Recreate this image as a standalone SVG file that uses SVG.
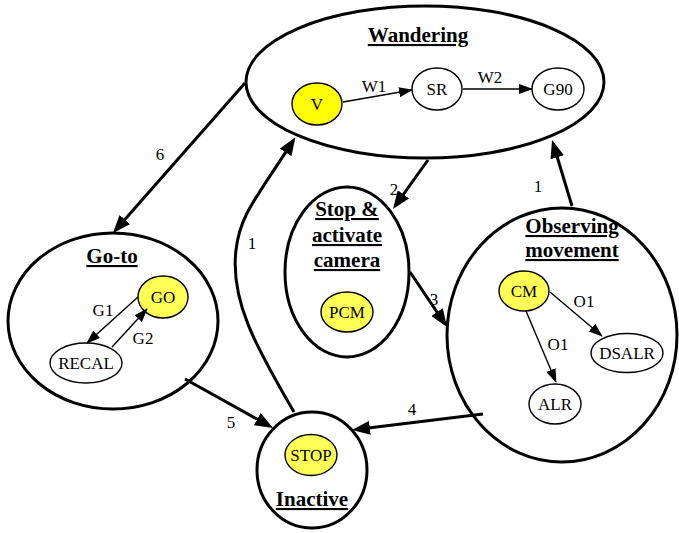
<svg xmlns="http://www.w3.org/2000/svg" width="679" height="533" viewBox="0 0 679 533">
  <style>
    .state { fill: #ffffff; stroke: #000000; stroke-width: 3; }
    .node { fill: #ffffff; stroke: #000000; stroke-width: 1.4; }
    .start { fill: #ffff00; }
    .active { fill: #ffff55; }
    .title { font-family: "Liberation Serif", "Times New Roman", serif; font-size: 21px; font-weight: bold; text-anchor: middle; text-decoration: underline; fill: #000; }
    .label { font-family: "Liberation Serif", "Times New Roman", serif; font-size: 17px; text-anchor: middle; fill: #000; }
    .big { fill: none; stroke: #000; stroke-width: 3; marker-end: url(#bigArrow); }
    .thin { fill: none; stroke: #000; stroke-width: 1.4; marker-end: url(#smallArrow); }
  </style>
  <defs>
    <marker id="bigArrow" markerUnits="userSpaceOnUse" markerWidth="18" markerHeight="14" refX="14" refY="7" orient="auto">
      <path d="M0,0 L18,7 L0,14 Z" fill="#000"/>
    </marker>
    <marker id="smallArrow" markerUnits="userSpaceOnUse" markerWidth="14" markerHeight="10" refX="13" refY="5" orient="auto">
      <path d="M0,0 L14,5 L0,10 Z" fill="#000"/>
    </marker>
  </defs>

  <rect width="679" height="533" fill="#ffffff"/>

  <!-- Wandering -->
  <g id="wandering">
    <ellipse class="state" cx="425" cy="82" rx="179" ry="76"/>
    <text class="title" x="418" y="42">Wandering</text>
    <g id="V">
      <ellipse class="node start" cx="317" cy="104" rx="25" ry="21"/>
      <text class="label" x="317" y="110">V</text>
    </g>
    <g id="SR">
      <ellipse class="node" cx="437" cy="89" rx="25" ry="21"/>
      <text class="label" x="437" y="95">SR</text>
    </g>
    <g id="G90">
      <ellipse class="node" cx="558" cy="89" rx="26" ry="21"/>
      <text class="label" x="558" y="95">G90</text>
    </g>
  </g>

  <!-- Go-to -->
  <g id="goto">
    <ellipse class="state" cx="113" cy="321" rx="105" ry="88"/>
    <text class="title" x="112" y="263">Go-to</text>
    <g id="GO">
      <ellipse class="node active" cx="163" cy="297" rx="25" ry="21"/>
      <text class="label" x="163" y="303">GO</text>
    </g>
    <g id="RECAL">
      <ellipse class="node" cx="86" cy="363" rx="36" ry="20"/>
      <text class="label" x="86" y="369">RECAL</text>
    </g>
  </g>

  <!-- Stop & activate camera -->
  <g id="stop-camera">
    <ellipse class="state" cx="347" cy="272" rx="62" ry="85"/>
    <text class="title" x="347" y="216">Stop &amp;</text>
    <text class="title" x="347" y="242">activate</text>
    <text class="title" x="347" y="267">camera</text>
    <g id="PCM">
      <ellipse class="node active" cx="347" cy="312" rx="26" ry="20"/>
      <text class="label" x="347" y="318">PCM</text>
    </g>
  </g>

  <!-- Observing movement -->
  <g id="observing">
    <ellipse class="state" cx="562" cy="335" rx="115" ry="127"/>
    <text class="title" x="572" y="233">Observing</text>
    <text class="title" x="572" y="257">movement</text>
    <g id="CM">
      <ellipse class="node active" cx="524" cy="291" rx="25" ry="20"/>
      <text class="label" x="524" y="297">CM</text>
    </g>
    <g id="DSALR">
      <ellipse class="node" cx="627" cy="353" rx="36" ry="19.5"/>
      <text class="label" x="627" y="359">DSALR</text>
    </g>
    <g id="ALR">
      <ellipse class="node" cx="555" cy="404" rx="26" ry="20"/>
      <text class="label" x="555" y="410">ALR</text>
    </g>
  </g>

  <!-- Inactive -->
  <g id="inactive">
    <ellipse class="state" cx="312" cy="470" rx="55" ry="58"/>
    <g id="STOP">
      <ellipse class="node active" cx="311" cy="455" rx="26" ry="20.5"/>
      <text class="label" x="311" y="461">STOP</text>
    </g>
    <text class="title" x="312" y="506">Inactive</text>
  </g>

  <!-- Transitions -->
  <g id="connectors">
    <!-- inner transitions -->
    <path class="thin" d="M343,102 L412,90"/>
    <text class="label" x="374" y="92">W1</text>
    <path class="thin" d="M463,89 L532,89"/>
    <text class="label" x="490" y="83">W2</text>
    <path class="thin" d="M138,297 L87,343"/>
    <text class="label" x="103" y="316">G1</text>
    <path class="thin" d="M112,347 L147,309"/>
    <text class="label" x="143" y="344">G2</text>
    <path class="thin" d="M550,292 L602,336"/>
    <text class="label" x="584" y="307">O1</text>
    <path class="thin" d="M526,311 L556,382"/>
    <text class="label" x="558" y="350">O1</text>

    <!-- state transitions -->
    <path class="big" d="M245,83 L115.6,230"/>
    <text class="label" x="160" y="160">6</text>
    <path class="big" d="M428,160 L395.3,205.7"/>
    <text class="label" x="394" y="195">2</text>
    <path class="big" d="M410,272 L444.8,323.7"/>
    <text class="label" x="434" y="305">3</text>
    <path class="big" d="M572,206 L553.2,143.8"/>
    <text class="label" x="538" y="192">1</text>
    <path class="big" d="M483,414 L356,429.5"/>
    <text class="label" x="412" y="415">4</text>
    <path class="big" d="M185,379 L269.5,426"/>
    <text class="label" x="231" y="428">5</text>
    <path class="big" d="M294,412 C255,345 230,300 236,250 C240,215 255,200 293.2,140.6"/>
    <text class="label" x="252" y="249">1</text>
  </g>
</svg>
